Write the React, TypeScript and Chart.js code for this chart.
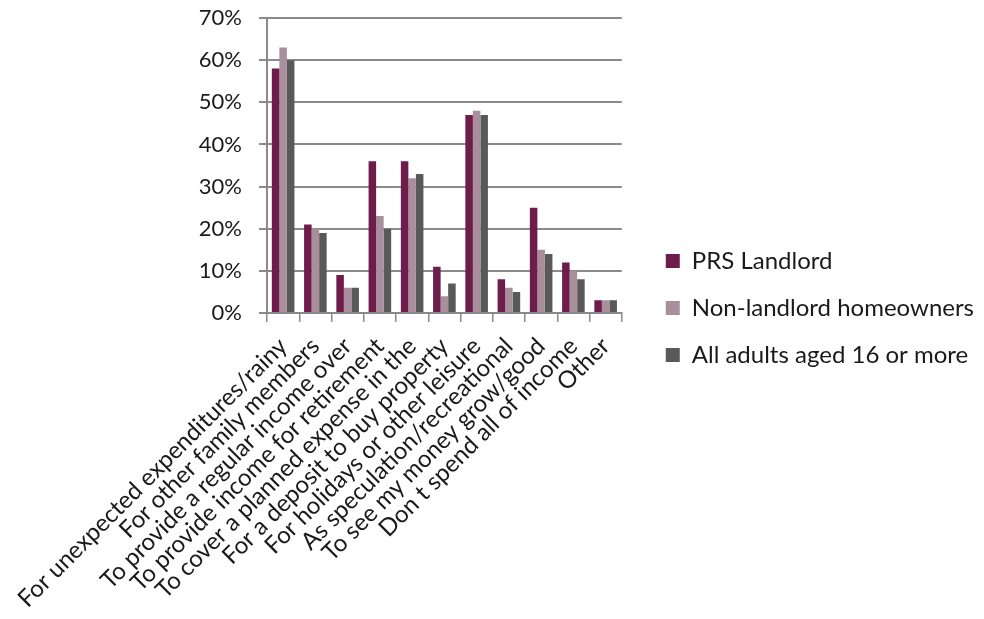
import React, { useEffect, useRef } from "react";
import { Chart, registerables } from "chart.js";

Chart.register(...registerables);

const categories = [
  "For unexpected expenditures/rainy",
  "For other family members",
  "To provide a regular income over",
  "To provide income for retirement",
  "To cover a planned expense in the",
  "For a deposit to buy property",
  "For holidays or other leisure",
  "As speculation/recreational",
  "To see my money grow/good",
  "Don t spend all of income",
  "Other",
];

const prsLandlord = [58, 21, 9, 36, 36, 11, 47, 8, 25, 12, 3];
const nonLandlordHomeowners = [63, 20, 6, 23, 32, 4, 48, 6, 15, 10, 3];
const allAdults = [60, 19, 6, 20, 33, 7, 47, 5, 14, 8, 3];

const seriesNames = ["PRS Landlord", "Non-landlord homeowners", "All adults aged 16 or more"];
const seriesColors = ["#6E1C4C", "#A98E9B", "#595959"];

const yMin = 0;
const yMax = 70;
const yStep = 10;

export default function App() {
  const canvasRef = useRef<HTMLCanvasElement | null>(null);

  useEffect(() => {
    document.body.style.margin = "0";
    const ctx = canvasRef.current;
    if (!ctx) return;
    const font = "Lato, 'Open Sans', sans-serif";
    const chart = new Chart(ctx, {
      type: "bar",
      data: {
        labels: categories,
        datasets: [prsLandlord, nonLandlordHomeowners, allAdults].map((d, i) => ({
          label: seriesNames[i],
          data: d,
          backgroundColor: seriesColors[i],
          borderWidth: 0,
          categoryPercentage: 0.7,
          barPercentage: 1.0,
        })),
      },
      options: {
        animation: false,
        responsive: false,
        maintainAspectRatio: false,
        layout: { padding: { left: 8, right: 0, top: 0, bottom: 3 } },
        plugins: {
          tooltip: { enabled: false },
          legend: {
            position: "right",
            align: "center",
            maxWidth: 400,
            labels: {
              boxWidth: 14,
              boxHeight: 14,
              padding: 23,
              color: "#1a1a1a",
              font: { family: font, size: 24 },
            },
          },
        },
        scales: {
          x: {
            grid: {
              display: true,
              drawOnChartArea: false,
              drawTicks: true,
              tickLength: 9,
              color: "#8a8a8a",
              lineWidth: 1.5,
            },
            border: { display: true, color: "#8a8a8a", width: 2 },
            ticks: {
              maxRotation: 45,
              minRotation: 45,
              autoSkip: false,
              color: "#1a1a1a",
              font: { family: font, size: 24 },
              padding: 10,
            },
            afterFit: (scale: any) => {
              scale.height = 303;
              scale.paddingTop = 0;
            },
          },
          y: {
            min: yMin,
            max: yMax,
            grid: {
              color: "#8a8a8a",
              lineWidth: 2,
              tickLength: 8,
            },
            border: { display: true, color: "#8a8a8a", width: 2 },
            ticks: {
              stepSize: yStep,
              color: "#1a1a1a",
              font: { family: font, size: 22, lineHeight: 1.0 },
              padding: 17,
              callback: (v: any) => v + "%",
            },
            afterFit: (scale: any) => {
              scale.width = 259;
              scale.paddingTop = 18;
            },
          },
          gap: {
            position: "right",
            display: true,
            grid: { display: false },
            border: { display: false },
            ticks: { display: false },
            afterFit: (scale: any) => {
              scale.width = 21;
            },
          },
        },
      },
    });
    return () => chart.destroy();
  }, []);

  return (
    <div style={{ width: 984, height: 619 }}>
      <canvas ref={canvasRef} width={984} height={619} style={{ width: 984, height: 619 }} />
    </div>
  );
}
